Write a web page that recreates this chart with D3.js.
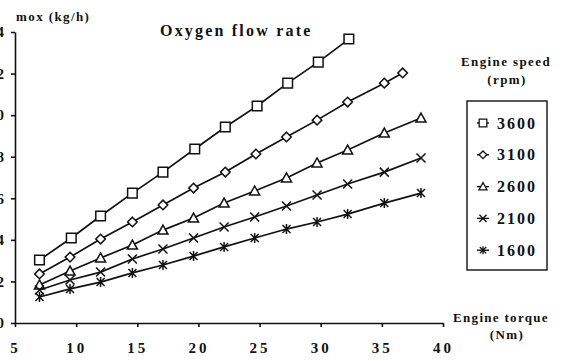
<!DOCTYPE html>
<html>
<head>
<meta charset="utf-8">
<script src="https://cdn.jsdelivr.net/npm/d3@7"></script>
<style>
  body { margin: 0; background: #fff; }
  svg { display: block; }
  text { font-family: "Liberation Serif", "Times New Roman", serif; font-weight: bold; fill: #111; }
  .tick text { font-size: 15px; letter-spacing: 3px; }
  .axis path, .axis line { stroke: #111; stroke-width: 1.6; }
</style>
</head>
<body>
<div id="graph"></div>
<script>
// Engine speeds (rpm) and marker shapes, top series first
const speeds = ["3600", "3100", "2600", "2100", "1600"];
const shapes = ["square", "diamond", "triangle", "cross", "asterisk"];

// Engine torque (Nm) for each measured point
const torque3600 = [7.0, 9.6, 12.0, 14.6, 17.1, 19.7, 22.2, 24.8, 27.3, 29.8, 32.3];
const torque3100 = [7.0, 9.5, 12.0, 14.6, 17.1, 19.6, 22.2, 24.7, 27.2, 29.7, 32.2, 35.2, 36.7];
const torqueLow = [7.0, 9.5, 12.0, 14.6, 17.1, 19.6, 22.1, 24.6, 27.2, 29.7, 32.2, 35.2, 38.2];

// Oxygen flow rate mox (kg/h)
const mox3600 = [3.03, 4.09, 5.15, 6.25, 7.26, 8.37, 9.43, 10.44, 11.54, 12.55, 13.66];
const mox3100 = [2.36, 3.17, 4.04, 4.86, 5.68, 6.49, 7.26, 8.13, 8.95, 9.76, 10.63, 11.54, 12.03];
const mox2600 = [1.83, 2.50, 3.13, 3.75, 4.47, 5.05, 5.77, 6.35, 6.98, 7.70, 8.32, 9.14, 9.86];
const mox2100 = [1.59, 2.07, 2.45, 3.08, 3.56, 4.09, 4.62, 5.10, 5.63, 6.16, 6.69, 7.26, 7.94];
const mox1600 = [1.25, 1.64, 1.97, 2.41, 2.79, 3.22, 3.66, 4.09, 4.52, 4.86, 5.24, 5.77, 6.25];

// Axis ticks
const xTicks = [5, 10, 15, 20, 25, 30, 35, 40];
const yTicks = [0, 2, 4, 6, 8, 10, 12, 14];

const width = 564, height = 361;

const series = [
  { speed: speeds[0], shape: shapes[0], x: torque3600, y: mox3600 },
  { speed: speeds[1], shape: shapes[1], x: torque3100, y: mox3100 },
  { speed: speeds[2], shape: shapes[2], x: torqueLow, y: mox2600 },
  { speed: speeds[3], shape: shapes[3], x: torqueLow, y: mox2100 },
  { speed: speeds[4], shape: shapes[4], x: torqueLow, y: mox1600 }
];

const svg = d3.select("#graph").append("svg")
  .attr("width", width)
  .attr("height", height);

const xScale = d3.scaleLinear().domain([5, 40]).range([15, 443]);
const yScale = d3.scaleLinear().domain([0, 14]).range([323, 32]);

// Marker path for a given shape, centred on 0,0
function marker(shape) {
  const p = d3.path();
  if (shape === "square") {
    p.rect(-4.8, -4.8, 9.6, 9.6);
  } else if (shape === "diamond") {
    p.moveTo(0, -4.8); p.lineTo(4.8, 0); p.lineTo(0, 4.8); p.lineTo(-4.8, 0); p.closePath();
  } else if (shape === "triangle") {
    p.moveTo(0, -5); p.lineTo(5, 4); p.lineTo(-5, 4); p.closePath();
  } else if (shape === "cross") {
    p.moveTo(-4.5, -4.5); p.lineTo(4.5, 4.5);
    p.moveTo(4.5, -4.5); p.lineTo(-4.5, 4.5);
  } else {
    p.moveTo(-4, -4); p.lineTo(4, 4);
    p.moveTo(4, -4); p.lineTo(-4, 4);
    p.moveTo(0, -5); p.lineTo(0, 5);
  }
  return p.toString();
}

// Axes
const xAxis = d3.axisBottom(xScale).tickValues(xTicks).tickSize(4).tickSizeOuter(0).tickPadding(15);
svg.append("g").attr("class", "axis")
  .attr("transform", `translate(0, ${yScale(0)})`)
  .call(xAxis);

const yAxis = d3.axisLeft(yScale).tickValues(yTicks).tickSize(4).tickSizeOuter(0).tickPadding(4);
svg.append("g").attr("class", "axis")
  .attr("transform", `translate(${xScale(5)}, 0)`)
  .call(yAxis);

// Lines
const line = d3.line().x(d => xScale(d[0])).y(d => yScale(d[1]));
const groups = svg.append("g").selectAll("g")
  .data(series)
  .join("g");

groups.append("path")
  .attr("d", d => line(d.x.map((t, i) => [t, d.y[i]])))
  .attr("fill", "none")
  .attr("stroke", "#111")
  .attr("stroke-width", 1.7);

groups.selectAll("path.pt")
  .data(d => d.x.map((t, i) => ({ t: t, m: d.y[i], shape: d.shape })))
  .join("path")
  .attr("class", "pt")
  .attr("transform", d => `translate(${xScale(d.t)}, ${yScale(d.m)})`)
  .attr("d", d => marker(d.shape))
  .attr("fill", "#fff")
  .attr("stroke", "#111")
  .attr("stroke-width", 1.5);

// Titles
const label = (x, y, size, spacing, txt, anchor) => svg.append("text")
  .attr("x", x).attr("y", y).attr("text-anchor", anchor || "start")
  .style("font-size", size + "px").style("letter-spacing", spacing + "px")
  .text(txt);

label(16, 21, 13, 1.4, "mox  (kg/h)");
label(160, 36, 16, 2.2, "Oxygen flow rate");
label(506, 66, 13, 1.4, "Engine speed", "middle");
label(507, 84, 13, 1.4, "(rpm)", "middle");
label(501, 322, 13, 1.3, "Engine torque", "middle");
label(507, 339, 13, 1.4, "(Nm)", "middle");

// Legend
const legend = svg.append("g");
legend.append("rect")
  .attr("x", 467).attr("y", 101).attr("width", 80).attr("height", 169)
  .attr("fill", "none").attr("stroke", "#111").attr("stroke-width", 1.4);

const rows = legend.selectAll("g.row")
  .data(series)
  .join("g")
  .attr("class", "row")
  .attr("transform", (d, i) => `translate(483, ${123 + i * 31.8})`);

rows.append("line")
  .attr("x1", -6).attr("x2", 6)
  .attr("stroke", "#111").attr("stroke-width", 1.4);
rows.append("path")
  .attr("d", d => marker(d.shape))
  .attr("transform", "scale(0.8)")
  .attr("fill", "#fff").attr("stroke", "#111").attr("stroke-width", 1.6);
rows.append("text")
  .attr("x", 14).attr("dy", "0.35em")
  .style("font-size", "16px").style("letter-spacing", "2px")
  .text(d => d.speed);
</script>
</body>
</html>
